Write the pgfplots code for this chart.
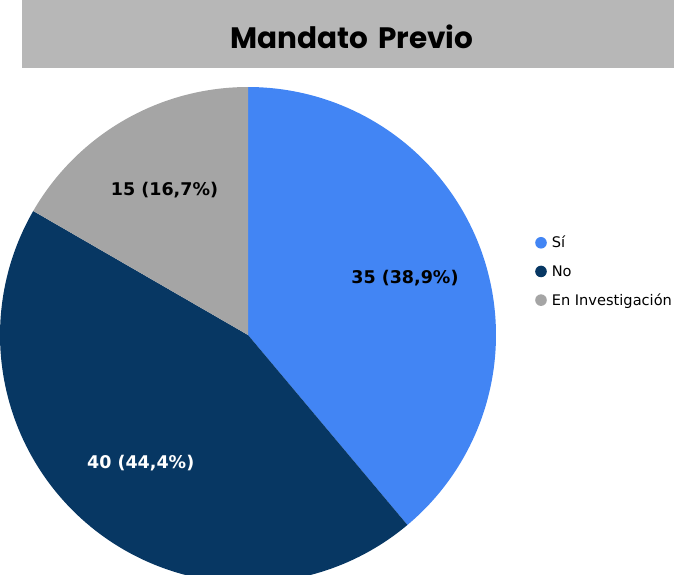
\documentclass[border=0pt]{standalone}
\usepackage{pgfplots}
\pgfplotsset{compat=1.18}
\usepackage{fontspec}
\setmainfont{DejaVu Sans}
\newfontfamily\titlefont{Poppins}
\definecolor{csi}{HTML}{4285F4}
\definecolor{cno}{HTML}{073763}
\definecolor{cinv}{HTML}{A5A5A5}
\definecolor{cbar}{HTML}{B7B7B7}
% data
\def\vSi{35}
\def\vNo{40}
\def\vInv{15}
\pgfmathsetmacro\tot{\vSi+\vNo+\vInv}
\pgfmathsetmacro\aA{90}
\pgfmathsetmacro\aB{\aA-360*\vSi/\tot}
\pgfmathsetmacro\aC{\aB-360*\vNo/\tot}
\pgfmathsetmacro\aD{\aC-360*\vInv/\tot}
\pgfmathsetmacro\mA{(\aA+\aB)/2}
\pgfmathsetmacro\mB{(\aB+\aC)/2}
\pgfmathsetmacro\mC{(\aC+\aD)/2}
\def\cx{248}
\def\cy{239}
\def\R{248}
\def\lr{167}
\begin{document}
\begin{tikzpicture}
\begin{axis}[
  at={(0,0)}, anchor=south west,
  width=674pt, height=574pt, scale only axis,
  xmin=0, xmax=674, ymin=0, ymax=574,
  hide axis, clip=true,
  legend image code/.code={\fill[#1] (0pt,0pt) circle (5.8pt);},
  legend style={at={(axis cs:535,340)}, anchor=north west, draw=none, fill=none,
    font=\fontsize{14.6}{17}\selectfont, row sep=12pt, inner sep=0pt,
    /tikz/every odd column/.style={column sep=3pt}},
  legend cell align=left,
]
\fill[cbar] (axis cs:22,506) rectangle (axis cs:674,574);
\node[font=\titlefont\bfseries\fontsize{29.5}{36}\selectfont] at (axis cs:352,537) {Mandato\hspace{0.12em} Previo};
\addplot[fill=csi, draw=none, domain=\aB:\aA, samples=120, variable=\t]
  ({\cx+\R*cos(t)},{\cy+\R*sin(t)}) -- (axis cs:\cx,\cy) -- cycle;
\addlegendentry{Sí}
\addplot[fill=cno, draw=none, domain=\aC:\aB, samples=120, variable=\t]
  ({\cx+\R*cos(t)},{\cy+\R*sin(t)}) -- (axis cs:\cx,\cy) -- cycle;
\addlegendentry{No}
\addplot[fill=cinv, draw=none, domain=\aD:\aC, samples=60, variable=\t]
  ({\cx+\R*cos(t)},{\cy+\R*sin(t)}) -- (axis cs:\cx,\cy) -- cycle;
\addlegendentry{En Investigación}
\node[font=\bfseries\fontsize{17.5}{21}\selectfont, text=black] at (axis cs:{\cx+\lr*cos(\mA)},{\cy+\lr*sin(\mA)}) {35 (38,9\%)};
\node[font=\bfseries\fontsize{17.5}{21}\selectfont, text=white] at (axis cs:{\cx+\lr*cos(\mB)},{\cy+\lr*sin(\mB)}) {40 (44,4\%)};
\node[font=\bfseries\fontsize{17.5}{21}\selectfont, text=black] at (axis cs:{\cx+\lr*cos(\mC)},{\cy+\lr*sin(\mC)}) {15 (16,7\%)};
\end{axis}
\pgfresetboundingbox
\useasboundingbox (0,0) rectangle (674pt,574pt);
\end{tikzpicture}
\end{document}
